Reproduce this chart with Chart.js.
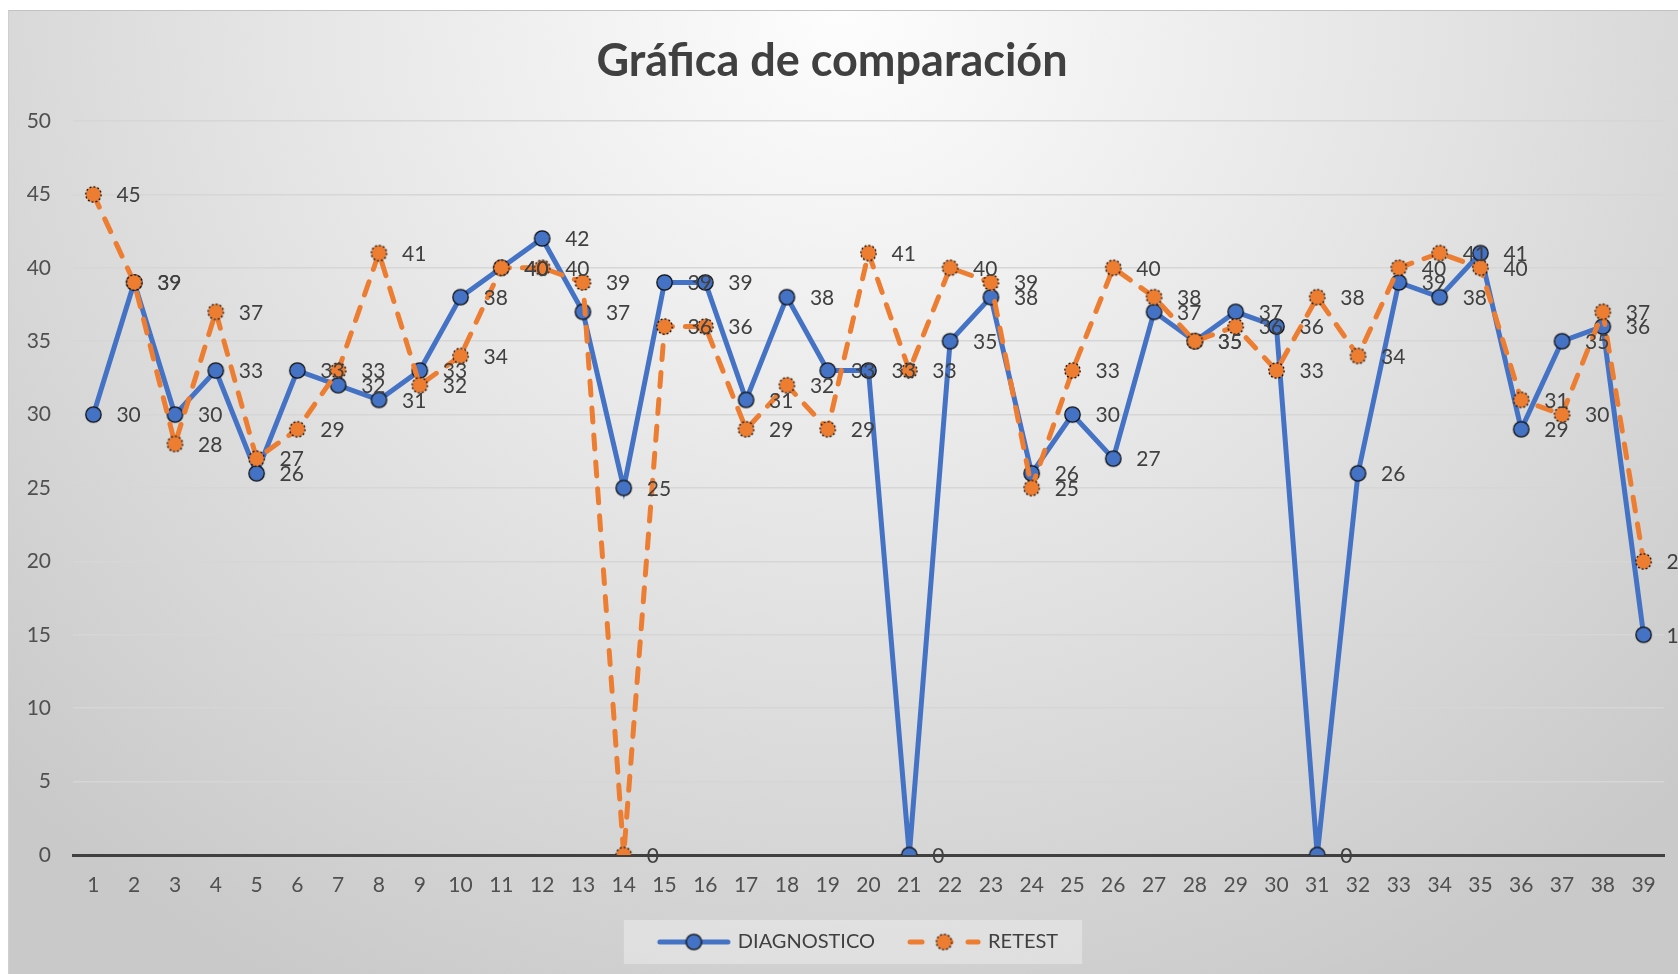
<!DOCTYPE html>
<html>
<head>
<meta charset="utf-8">
<script src="https://cdn.jsdelivr.net/npm/chart.js@4.4.1/dist/chart.umd.min.js"></script>
<style>
  html, body { margin: 0; padding: 0; background: #fff; }
  #wrap { position: relative; width: 1678px; height: 974px; overflow: hidden; }
  #bg {
    position: absolute; left: 8px; top: 10px; width: 1670px; height: 964px;
    border-top: 1px solid #c2c2c2; border-left: 1px solid #cfcfcf;
    background: radial-gradient(ellipse 70% 115% at 50% 0%, #fdfdfd 0%, #e4e4e4 50%, #c9c9c9 100%);
  }
  #chart { position: absolute; left: 0; top: 0; }
</style>
</head>
<body>
<div id="wrap">
  <div id="bg"></div>
  <canvas id="chart" width="1678" height="974"></canvas>
</div>
<script>
const categories = [];
for (let i = 1; i <= 39; i++) categories.push(String(i));

const diagnostico = [30, 39, 30, 33, 26, 33, 32, 31, 33, 38, 40, 42, 37, 25, 39, 39, 31, 38, 33, 33,
  0, 35, 38, 26, 30, 27, 37, 35, 37, 36, 0, 26, 39, 38, 41, 29, 35, 36, 15];
const retest = [45, 39, 28, 37, 27, 29, 33, 41, 32, 34, 40, 40, 39, 0, 36, 36, 29, 32, 29, 41,
  33, 40, 39, 25, 33, 40, 38, 35, 36, 33, 38, 34, 40, 41, 40, 31, 30, 37, 20];
const yTicks = [0, 5, 10, 15, 20, 25, 30, 35, 40, 45, 50];

const BLUE = '#4472C4';
const ORANGE = '#ED7D31';
const FONT = 'Lato, "Open Sans", sans-serif';

// marker images (solid border for blue, dotted border for orange)
function makeMarker(fill, dashed) {
  const c = document.createElement('canvas');
  c.width = 19; c.height = 19;
  const g = c.getContext('2d');
  g.beginPath();
  g.arc(9.5, 9.5, 7.7, 0, Math.PI * 2);
  g.fillStyle = fill;
  g.fill();
  g.lineWidth = 1.3;
  g.strokeStyle = '#111';
  if (dashed) g.setLineDash([2, 2]);
  g.stroke();
  return c;
}

function makeLegendIcon(color, dashed, marker) {
  const c = document.createElement('canvas');
  c.width = 76; c.height = 20;
  const g = c.getContext('2d');
  g.strokeStyle = color;
  g.lineWidth = 5;
  g.lineCap = 'round';
  if (dashed) g.setLineDash([12, 17]);
  g.beginPath();
  g.moveTo(4, 10);
  g.lineTo(72, 10);
  g.stroke();
  g.drawImage(marker, 38 - marker.width / 2, 10 - marker.height / 2);
  return c;
}

const blueMarker = makeMarker(BLUE, false);
const orangeMarker = makeMarker(ORANGE, true);
const legendIcons = [makeLegendIcon(BLUE, false, blueMarker), makeLegendIcon(ORANGE, true, orangeMarker)];

// value labels to the right of each point
const valueLabels = {
  id: 'valueLabels',
  afterDatasetsDraw(chart) {
    const ctx = chart.ctx;
    ctx.save();
    ctx.font = '21px ' + FONT;
    ctx.fillStyle = '#404040';
    ctx.textAlign = 'left';
    ctx.textBaseline = 'middle';
    chart.data.datasets.forEach((ds, i) => {
      const meta = chart.getDatasetMeta(i);
      meta.data.forEach((pt, j) => {
        ctx.fillText(String(ds.data[j]), pt.x + 23, pt.y + 1);
      });
    });
    ctx.restore();
  }
};

// legend sits centred on the whole chart frame, on a light box
const legendBox = {
  id: 'legendBox',
  afterLayout(chart) {
    chart.legend.left += 27;
    chart.legend.right += 27;
  },
  beforeDraw(chart) {
    const boxes = chart.legend && chart.legend.legendHitBoxes;
    if (!boxes || !boxes.length) return;
    const left = Math.min(...boxes.map(b => b.left)) - 36;
    const right = Math.max(...boxes.map(b => b.left + b.width)) + 24;
    const cy = boxes[0].top + boxes[0].height / 2;
    const ctx = chart.ctx;
    ctx.save();
    ctx.fillStyle = 'rgba(255,255,255,0.32)';
    ctx.fillRect(left, cy - 22, right - left, 44);
    ctx.restore();
  }
};

new Chart(document.getElementById('chart'), {
  type: 'line',
  data: {
    labels: categories,
    datasets: [
      {
        label: 'DIAGNOSTICO',
        data: diagnostico,
        borderColor: BLUE,
        backgroundColor: BLUE,
        borderWidth: 5,
        pointStyle: blueMarker,
        pointRadius: 8,
        tension: 0,
        order: 1
      },
      {
        label: 'RETEST',
        data: retest,
        borderColor: ORANGE,
        backgroundColor: ORANGE,
        borderWidth: 5,
        borderDash: [14, 13],
        borderCapStyle: 'round',
        pointStyle: orangeMarker,
        pointRadius: 8,
        tension: 0,
        order: 0
      }
    ]
  },
  options: {
    responsive: false,
    animation: false,
    layout: { padding: { left: 0, right: 14, top: 0, bottom: 12 } },
    plugins: {
      title: {
        display: true,
        text: 'Gráfica de comparación',
        color: '#404040',
        font: { family: FONT, size: 45, weight: 'bold' },
        padding: { top: 34, bottom: 33 }
      },
      legend: {
        position: 'bottom',
        labels: {
          usePointStyle: true,
          pointStyleWidth: 68,
          padding: 35,
          color: '#404040',
          font: { family: FONT, size: 20 },
          generateLabels: chart => chart.data.datasets.map((ds, i) => ({
            text: ds.label,
            pointStyle: legendIcons[i],
            fontColor: '#404040',
            fillStyle: 'transparent',
            strokeStyle: 'transparent',
            lineWidth: 0,
            hidden: false,
            datasetIndex: i
          }))
        }
      },
      tooltip: { enabled: false }
    },
    scales: {
      x: {
        offset: true,
        afterFit: scale => { scale.height = 42; },
        grid: { display: false, drawTicks: false },
        border: { display: true, color: '#404040', width: 3 },
        ticks: { color: '#505050', font: { family: FONT, size: 21 }, padding: 18, maxRotation: 0, autoSkip: false }
      },
      y: {
        min: 0,
        max: 50,
        afterBuildTicks: scale => { scale.ticks = yTicks.map(v => ({ value: v })); },
        afterFit: scale => { scale.width = 73; },
        grid: { color: '#d6d6d6', lineWidth: 1.5, drawTicks: false },
        border: { display: false },
        ticks: { color: '#505050', font: { family: FONT, size: 21 }, padding: 22 }
      }
    }
  },
  plugins: [legendBox, valueLabels]
});
</script>
</body>
</html>
